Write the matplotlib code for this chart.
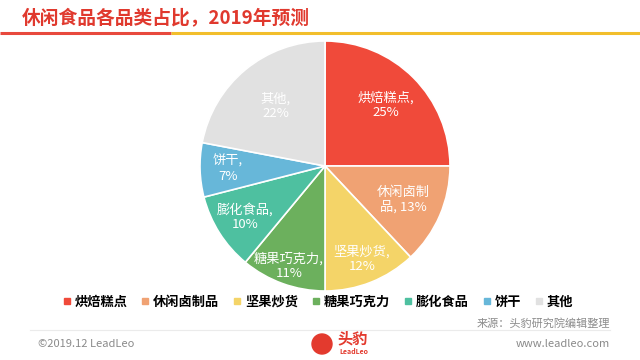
import matplotlib
matplotlib.use("Agg")
import matplotlib.pyplot as plt
from matplotlib.lines import Line2D
import numpy as np

plt.rcParams['font.family'] = ['Noto Sans CJK SC', 'DejaVu Sans']

# data
categories = ['烘焙糕点', '休闲卤制品', '坚果炒货', '糖果巧克力', '膨化食品', '饼干', '其他']
shares = [25, 13, 12, 11, 10, 7, 22]
slice_labels = ['烘焙糕点,\n25%', '休闲卤制\n品, 13%', '坚果炒货,\n12%', '糖果巧克力,\n11%',
                '膨化食品,\n10%', '饼干,\n7%', '其他,\n22%']
colors = ['#F04A3A', '#F0A273', '#F4D468', '#6CB05D', '#4EC0A0', '#67B7D9', '#E1E1E1']
label_dist = [0.69, 0.68, 0.80, 0.85, 0.76, 0.78, 0.62]

W, H = 640, 360
fig = plt.figure(figsize=(6.4, 3.6), dpi=100)
bg = fig.add_axes([0, 0, 1, 1])
bg.set_xlim(0, W)
bg.set_ylim(H, 0)
bg.axis('off')

# header
bg.text(22, 18, '休闲食品各品类占比，2019年预测', fontsize=13.5, fontweight='bold',
        color='#E0392E', va='center', ha='left')
bg.plot([0, 171], [33, 33], color='#E8493D', lw=2.2, solid_capstyle='butt')
bg.plot([171, 640], [33, 33], color='#F2BE2C', lw=2.2, solid_capstyle='butt')

# pie
cx, cy, r = 325, 166, 125
ax = fig.add_axes([(cx - r) / W, (H - cy - r) / H, 2 * r / W, 2 * r / H])
wedges, _ = ax.pie(shares, colors=colors, startangle=90, counterclock=False,
                   wedgeprops=dict(edgecolor='white', linewidth=1.2))
ax.set_aspect('equal')
ax.set_xlim(-1, 1)
ax.set_ylim(-1, 1)

for w, lab, d in zip(wedges, slice_labels, label_dist):
    ang = np.deg2rad((w.theta1 + w.theta2) / 2)
    ax.text(d * np.cos(ang), d * np.sin(ang), lab, ha='center', va='center',
            color='white', fontsize=9.5, linespacing=1.2)

# legend
handles = [Line2D([], [], marker='s', ls='', markersize=4.5, color=c) for c in colors]
fig.legend(handles, categories, loc='center', bbox_to_anchor=(318 / W, 1 - 302 / H),
           ncol=7, frameon=False, handlelength=0.6, handletextpad=0.3,
           columnspacing=1.05, prop={'weight': 'bold', 'size': 9.5})

# source & footer
bg.text(610, 323, '来源：头豹研究院编辑整理', fontsize=8, color='#8C8C8C',
        ha='right', va='center', style='italic')
bg.plot([30, 610], [330, 330], color='#EBEBEB', lw=0.8)
bg.text(38, 344, '©2019.12 LeadLeo', fontsize=8, color='#8A8A8A', ha='left', va='center')
bg.text(610, 344, 'www.leadleo.com', fontsize=8, color='#8A8A8A', ha='right', va='center')
bg.text(337, 338, '头豹', fontsize=11, fontweight='bold', color='#E33A2E', ha='left', va='center')
bg.text(339, 352, 'LeadLeo', fontsize=5, fontweight='bold', style='italic', color='#E33A2E',
        ha='left', va='center')
bg.add_patch(plt.Circle((322, 344), 10, color='#E33A2E'))

fig.savefig('out.png', dpi=100)
